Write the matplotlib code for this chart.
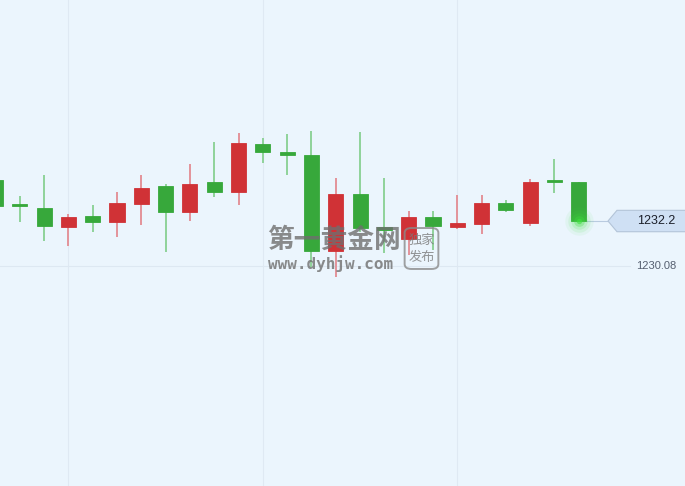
import matplotlib
matplotlib.use("Agg")
import matplotlib.pyplot as plt
import numpy as np
from matplotlib.patches import Polygon, FancyBboxPatch
import matplotlib.transforms as mtransforms

# OHLC (gold, one candle per bar)
opens  = [1234.13, 1232.91, 1232.80, 1231.90, 1232.42, 1232.14, 1233.00, 1233.86, 1232.62, 1234.02,
          1233.57, 1235.81, 1235.46, 1235.29, 1230.80, 1233.46, 1231.90, 1231.37, 1232.40, 1231.92,
          1232.06, 1233.03, 1232.11, 1234.08, 1234.05]
highs  = [1234.18, 1233.38, 1234.37, 1232.53, 1232.95, 1233.57, 1234.37, 1233.94, 1234.88, 1235.92,
          1236.34, 1236.11, 1236.30, 1236.44, 1234.22, 1236.39, 1234.22, 1232.67, 1232.67, 1233.42,
          1233.42, 1233.19, 1234.18, 1235.11, 1234.05]
lows   = [1232.86, 1232.17, 1231.27, 1231.04, 1231.70, 1231.46, 1232.03, 1230.75, 1232.21, 1233.34,
          1232.97, 1234.95, 1234.38, 1230.02, 1229.58, 1231.68, 1230.68, 1230.60, 1230.83, 1231.84,
          1231.57, 1232.64, 1231.95, 1233.53, 1232.20]
closes = [1232.91, 1232.89, 1231.96, 1232.37, 1232.15, 1233.03, 1233.77, 1232.62, 1233.93, 1233.57,
          1235.86, 1235.45, 1235.32, 1230.80, 1233.46, 1231.86, 1231.78, 1232.40, 1231.98, 1232.09,
          1233.03, 1232.72, 1234.05, 1234.05, 1232.20]
grid_price = 1230.08
grid_cols = [3, 11, 19]

UP = "#d03236"      # red = rise
DOWN = "#37a83b"    # green = fall
UP_W = "#e3939a"
DOWN_W = "#8fd39a"
BG = "#ebf5fd"

fig = plt.figure(figsize=(6.85, 4.86), dpi=100)
fig.patch.set_facecolor(BG)
ax = fig.add_axes([0, 0, 1, 1])
ax.set_facecolor(BG)
for s in ax.spines.values():
    s.set_visible(False)
ax.set_xticks([]); ax.set_yticks([])

x = np.arange(len(opens))
o = np.array(opens); c = np.array(closes)
up = c > o
col = np.where(up, UP, DOWN)
wcol = np.where(up, UP_W, DOWN_W)

ax.set_xlim(0.185, 28.37)
ax.set_ylim(1219.72, 1242.61)
px = (1242.61 - 1219.72) / 486.0   # price per pixel

# grid
for g in grid_cols:
    ax.axvline(g, color="#dfe9f3", lw=0.8, zorder=0)
ax.axhline(grid_price, xmin=0, xmax=0.92, color="#dde8f2", lw=0.8, zorder=0)
ax.text(0.928, grid_price, "1230.08", transform=mtransforms.blended_transform_factory(ax.transAxes, ax.transData),
        fontsize=8, family="Liberation Sans", color="#555f70", va="center", ha="left")

# candles
ax.vlines(x, lows, highs, colors=wcol, lw=1.4, zorder=2)
bottoms = np.minimum(o, c)
heights = np.maximum(np.abs(c - o), 2 * px)
ax.bar(x, heights, 0.62, bottom=bottoms, color=col, edgecolor=col, lw=0.6, zorder=3)

# glow on last close
lx, lc = x[-1], closes[-1]
for s, a in [(420, 0.06), (260, 0.1), (140, 0.15), (60, 0.3), (15, 0.6)]:
    ax.scatter([lx], [lc], s=s, color="#3fe03f", alpha=a, lw=0, zorder=4)

# last price marker
blend = mtransforms.blended_transform_factory(ax.transAxes, ax.transData)
tip = 608 / 685.0
ax.plot([lx + 0.31, (608 + 4.5) / 24.3], [lc, lc], color="#b9cbe0", lw=0.8, zorder=1)
hh = 10.7 * px
poly = Polygon([(tip, lc), (617 / 685.0, lc + hh), (1.01, lc + hh), (1.01, lc - hh), (617 / 685.0, lc - hh)],
               closed=True, transform=blend, facecolor="#cfe0f4", edgecolor="#b3c4d8", lw=0.8, zorder=5)
ax.add_patch(poly)
ax.text(656 / 685.0, lc, "1232.2", transform=blend, fontsize=9, family="Liberation Sans",
        color="#1b1f2a", ha="center", va="center", zorder=6)

# watermark
fig.text(267 / 685.0, 1 - 240 / 486.0, "第一黄金网", fontsize=19.3, fontweight="heavy",
         family=["Noto Sans CJK SC", "DejaVu Sans"], color="#6f6f6f", alpha=0.8, va="center", ha="left", zorder=10)
fig.text(268 / 685.0, 1 - 264 / 486.0, "www.dyhjw.com", fontsize=11.5, fontweight="bold",
         family="DejaVu Sans Mono", color="#6f6f6f", alpha=0.8, va="center", ha="left", zorder=10)
stamp = FancyBboxPatch((406 / 685.0, 1 - 268 / 486.0), 31 / 685.0, 39 / 486.0,
                       boxstyle="round,pad=0.002,rounding_size=0.01", transform=fig.transFigure,
                       facecolor="none", edgecolor="#8a8a8a", lw=1.4, alpha=0.8, zorder=10)
fig.patches.append(stamp)
fig.text(421.5 / 685.0, 1 - 240 / 486.0, "独家", fontsize=9.5, family=["Noto Sans CJK SC", "DejaVu Sans"],
         color="#7a7a7a", alpha=0.8, ha="center", va="center", zorder=10)
fig.text(421.5 / 685.0, 1 - 257 / 486.0, "发布", fontsize=9.5, family=["Noto Sans CJK SC", "DejaVu Sans"],
         color="#7a7a7a", alpha=0.8, ha="center", va="center", zorder=10)

fig.savefig("out.png", dpi=100, facecolor=BG)
